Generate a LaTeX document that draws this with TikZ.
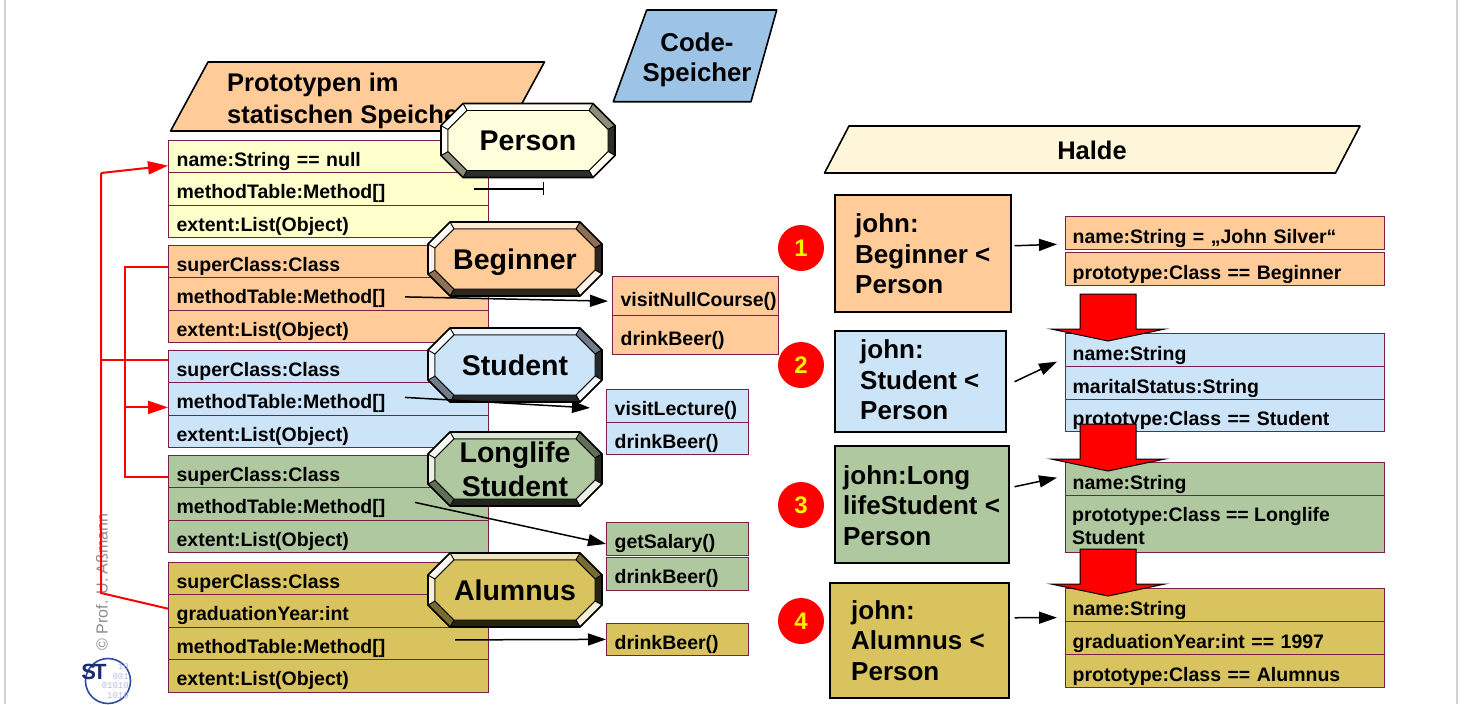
\documentclass[tikz,border=0pt]{standalone}
\usepackage{fontspec}
\setmainfont{Liberation Sans}
\setmonofont{Liberation Mono}
\usetikzlibrary{arrows.meta,calc}
\definecolor{pers}{HTML}{FFFFDD}
\definecolor{persrow}{HTML}{FFFFCC}
\definecolor{beg}{HTML}{FFCC99}
\definecolor{stu}{HTML}{CCE4F7}
\definecolor{lls}{HTML}{B0C8A0}
\definecolor{alu}{HTML}{D9C35F}
\definecolor{rowc}{HTML}{7A1F48}
\definecolor{codeb}{HTML}{9DC3E6}
\definecolor{halde}{HTML}{FFF6DA}
\definecolor{logob}{HTML}{2E4A9E}
\definecolor{logod}{HTML}{B4BDE8}
\definecolor{logos}{HTML}{1C2B6B}
\newcommand\myrowfont{\fontsize{19.5}{23}\selectfont\bfseries}
\tikzset{
  facel/.style={draw=black, line width=0.8pt, line join=round},
  lrow/.style={draw=rowc, line width=1.3pt, anchor=north west, minimum height=32.5pt,
    text width=304pt, inner xsep=8pt, inner ysep=0pt, align=left,
    text height=20pt, text depth=0pt, font=\myrowfont},
  mrow/.style={lrow, text width=126pt},
  mrowb/.style={lrow, text width=150pt, minimum height=39pt},
  rrow/.style={lrow, text width=305pt, inner xsep=7pt, minimum height=33pt},
  jbox/.style={draw=black, line width=1.5pt, anchor=north west, inner sep=0pt},
  jtext/.style={anchor=west, align=left, inner sep=0pt, font=\fontsize{26}{30.5}\selectfont\bfseries},
  numc/.style={circle, fill=red, minimum size=46pt, inner sep=0pt, text=yellow,
    font=\fontsize{24}{24}\selectfont\bfseries},
  octt/.style={inner sep=0pt, font=\fontsize{28.5}{34}\selectfont\bfseries},
  octs/.style={octt, text height=20pt, text depth=0pt},
  ttl/.style={inner sep=0pt, font=\fontsize{25.5}{32}\selectfont\bfseries},
  shp/.style={draw=black, line width=1.6pt, line join=round},
  redl/.style={draw=red, line width=2pt},
  redtip/.style={-{Triangle[length=20pt,width=13pt]}},
  barr/.style={draw=black, line width=1.5pt, -{Triangle[length=18pt,width=12pt]}},
  blk/.style={fill=red, draw=black, line width=1pt, line join=miter}
}
\newcommand\bevoct[2]{%
\begin{scope}[shift={#1}]
\filldraw[fill=#2!40!white,facel] (-65,-37)--(65,-37)--(61,-30)--(-61,-30)--cycle;
\filldraw[fill=#2!55!black,facel] (65,-37)--(87,-15)--(80,-11)--(61,-30)--cycle;
\filldraw[fill=#2!18!black,facel] (87,-15)--(87,15)--(80,11)--(80,-11)--cycle;
\filldraw[fill=#2!25!white,facel] (87,15)--(65,37)--(61,30)--(80,11)--cycle;
\filldraw[fill=#2!18!black,facel] (65,37)--(-65,37)--(-61,30)--(61,30)--cycle;
\filldraw[fill=#2!55!black,facel] (-65,37)--(-87,15)--(-80,11)--(-61,30)--cycle;
\filldraw[fill=#2!25!white,facel] (-87,15)--(-87,-15)--(-80,-11)--(-80,11)--cycle;
\filldraw[fill=#2!10!white,facel] (-87,-15)--(-65,-37)--(-61,-30)--(-80,-11)--cycle;
\filldraw[fill=#2,facel] (-61,-30)--(61,-30)--(80,-11)--(80,11)--(61,30)--(-61,30)--(-80,11)--(-80,-11)--cycle;
\draw[line width=1.6pt,line join=round] (-65,-37)--(65,-37)--(87,-15)--(87,15)--(65,37)--(-65,37)--(-87,15)--(-87,-15)--cycle;
\end{scope}}
\newcommand\blockarr[1]{%
\filldraw[blk] (1080,#1)--(1136,#1)--(1136,{#1+35})--(1165,{#1+35})--(1108,{#1+47})--(1051,{#1+35})--(1080,{#1+35})--cycle;}
\begin{document}
\begin{tikzpicture}[x=1pt,y=-1pt]
\useasboundingbox (0,0) rectangle (1464,704);
\fill[white] (0,0) rectangle (1464,704);
\draw[gray!35, line width=1.5pt] (5,0)--(5,704);
\draw[gray!35, line width=1.5pt] (1457,0)--(1457,704);

% title shapes
\draw[shp, fill=beg] (208,62)--(544.5,62)--(507,131)--(170.6,131)--cycle;
\node[ttl, anchor=west, align=left] (tProt) at (227,101) {Prototypen im\\statischen Speicher};
\draw[shp, fill=codeb] (646.7,10)--(776.7,10)--(751,101.7)--(613.3,101.7)--cycle;
\node[ttl, align=center, font=\fontsize{25.8}{30}\selectfont\bfseries] (tCode) at (697,59.5) {Code-\\Speicher};
\draw[shp, fill=halde] (849,126)--(1360,126)--(1335.5,173)--(824.5,173)--cycle;
\node[ttl] (tHalde) at (1092,150.7) {Halde};

% class prototype rows
\node[lrow, fill=persrow] (pA) at (168,139.5) {name:String == null};
\node[lrow, fill=persrow] (pB) at (168,172) {methodTable:Method[]};
\node[lrow, fill=persrow] (pC) at (168,204.5) {extent:List(Object)};
\node[lrow, fill=beg] (bA) at (168,244.5) {superClass:Class};
\node[lrow, fill=beg] (bB) at (168,277) {methodTable:Method[]};
\node[lrow, fill=beg] (bC) at (168,309.5) {extent:List(Object)};
\node[lrow, fill=stu] (sA) at (168,349.5) {superClass:Class};
\node[lrow, fill=stu] (sB) at (168,382) {methodTable:Method[]};
\node[lrow, fill=stu] (sC) at (168,414.5) {extent:List(Object)};
\node[lrow, fill=lls] (lA) at (168,454.5) {superClass:Class};
\node[lrow, fill=lls] (lB) at (168,487) {methodTable:Method[]};
\node[lrow, fill=lls] (lC) at (168,519.5) {extent:List(Object)};
\node[lrow, fill=alu] (aA) at (168,561.5) {superClass:Class};
\node[lrow, fill=alu] (aB) at (168,594) {graduationYear:int};
\node[lrow, fill=alu] (aC) at (168,626.5) {methodTable:Method[]};
\node[lrow, fill=alu] (aD) at (168,659) {extent:List(Object)};

% method boxes
\node[mrowb, fill=beg] (mB1) at (612,276) {visitNullCourse()};
\node[mrowb, fill=beg] (mB2) at (612,315) {drinkBeer()};
\node[mrow, fill=stu] (mS1) at (606,389) {visitLecture()};
\node[mrow, fill=stu] (mS2) at (606,421.5) {drinkBeer()};
\node[mrow, fill=lls] (mL1) at (606,522) {getSalary()};
\node[mrow, fill=lls] (mL2) at (606,557) {drinkBeer()};
\node[mrow, fill=alu] (mA1) at (606,622.5) {drinkBeer()};

% octagons
\bevoct{(528,140.5)}{pers}
\node[octs] (oPer) at (528,140.5) {Person};
\bevoct{(515,259)}{beg}
\node[octs] (oBeg) at (515,259) {Beginner};
\bevoct{(515,365)}{stu}
\node[octs] (oStu) at (515,365) {Student};
\bevoct{(515,469)}{lls}
\node[octt, align=center] (oLls) at (515,469) {Longlife\\Student};
\bevoct{(515,590)}{alu}
\node[octs] (oAlu) at (515,590) {Alumnus};

% heap objects
\node[numc] (n1) at (801,248) {1};
\node[numc] (n2) at (801,365) {2};
\node[numc] (n3) at (801,505) {3};
\node[numc] (n4) at (801,621) {4};
\node[jbox, fill=beg, minimum width=176pt, minimum height=117pt] (jb1) at (834,194) {};
\node[jtext] (jt1) at (855,254) {john:\\Beginner <\\Person};
\node[jbox, fill=stu, minimum width=171pt, minimum height=101pt] (jb2) at (834,330) {};
\node[jtext] (jt2) at (860,380) {john:\\Student <\\Person};
\node[jbox, fill=lls, minimum width=174pt, minimum height=117pt] (jb3) at (834,445) {};
\node[jtext] (jt3) at (843,505.5) {john:Long\\lifeStudent <\\Person};
\node[jbox, fill=alu, minimum width=179pt, minimum height=115pt] (jb4) at (829,582) {};
\node[jtext] (jt4) at (851,640.5) {john:\\Alumnus <\\Person};

\node[rrow, fill=beg] (r1a) at (1065,216) {name:String = „John Silver“};
\node[rrow, fill=beg] (r1b) at (1065,252) {prototype:Class == Beginner};
\node[rrow, fill=stu] (r2a) at (1065,333) {name:String};
\node[rrow, fill=stu] (r2b) at (1065,366) {maritalStatus:String};
\node[rrow, fill=stu, minimum height=32pt] (r2c) at (1065,399) {prototype:Class == Student};
\node[rrow, fill=lls] (r3a) at (1065,462) {name:String};
\node[rrow, fill=lls, minimum height=57pt] (r3b) at (1065,495) {};
\node[anchor=west, align=left, inner sep=0pt, font=\fontsize{19.5}{23}\selectfont\bfseries] (r3t) at (1072,526) {prototype:Class == Longlife\\Student};
\node[rrow, fill=alu] (r4a) at (1065,588) {name:String};
\node[rrow, fill=alu] (r4b) at (1065,621) {graduationYear:int == 1997};
\node[rrow, fill=alu] (r4c) at (1065,654) {prototype:Class == Alumnus};

\blockarr{294}
\blockarr{424}
\blockarr{549}

\draw[barr] ($(jb1.east)+(3,-7.5)$) -- ($(r1a.south west)+(-8,-6)$);
\draw[barr] ($(jb2.east)+(8,0.5)$) -- ($(r2a.west)+(-8,11.5)$);
\draw[barr] ($(jb3.east)+(5,-17.5)$) -- ($(r3a.west)+(-8,-1.5)$);
\draw[barr] ($(jb4.east)+(5,-22.5)$) -- ($(r4a.west)+(-8,12.5)$);

% copyright and logo
\node[rotate=90, text=gray!90, inner sep=0pt, font=\fontsize{16}{16}\selectfont] (copy) at (102,582) {© Prof. U. Aßmann};
\node[circle, draw=logob, line width=1.6pt, fill=white, minimum size=45pt, inner sep=0pt] (logo) at (108,681) {};
\node[anchor=east, align=right, inner sep=0pt, text=logod, font=\ttfamily\fontsize{9}{9.6}\selectfont] (logoD) at (129,681) {10\\001\\01010\\1010};
\node[inner sep=0pt, text=logos, font=\fontsize{22}{22}\selectfont\bfseries] (logoS) at (94,672) {S\kern-3pt T};

% red superclass links
\coordinate (oTop) at (101,173);
\coordinate (oBot) at (101,593);
\coordinate (iX) at (124.7,0);
\coordinate (sAj) at ($(sA.west)+(0,-6.75)$);
\coordinate (bAj) at ($(bA.west)+(0,6)$);
\coordinate (lAj) at ($(lA.west)+(0,6)$);
\coordinate (sBj) at ($(sB.west)+(0,8.5)$);
\draw[redl, line join=miter] ($(aB.west)+(0,-2.25)$) -- (oBot) -- (oTop);
\draw[redl, redtip] (oTop) -- ($(pA.west)+(0,9.25)$);
\draw[redl] (sAj) -- (sAj -| oTop);
\draw[redl] (bAj) -- (bAj -| iX) -- (lAj -| iX) -- (lAj);
\draw[redl, redtip] (sBj -| iX) -- (sBj);

% method table links
\draw[line width=1.5pt, -{Bar[width=13pt]}] ($(pB.west)+(306,0)$) -- ($(pB.west)+(376,0)$);
\draw[barr] ($(bB.west)+(237,3)$) -- ($(mB1.west)+(-4,5)$);
\draw[barr] ($(sB.west)+(237,-1.5)$) -- ($(mS1.west)+(-16,2)$);
\draw[barr] ($(lB.west)+(247,-1.5)$) -- ($(mL1.west)+(0,5)$);
\draw[barr] ($(aC.west)+(287,-3.5)$) -- (mA1.west);
\end{tikzpicture}
\end{document}
